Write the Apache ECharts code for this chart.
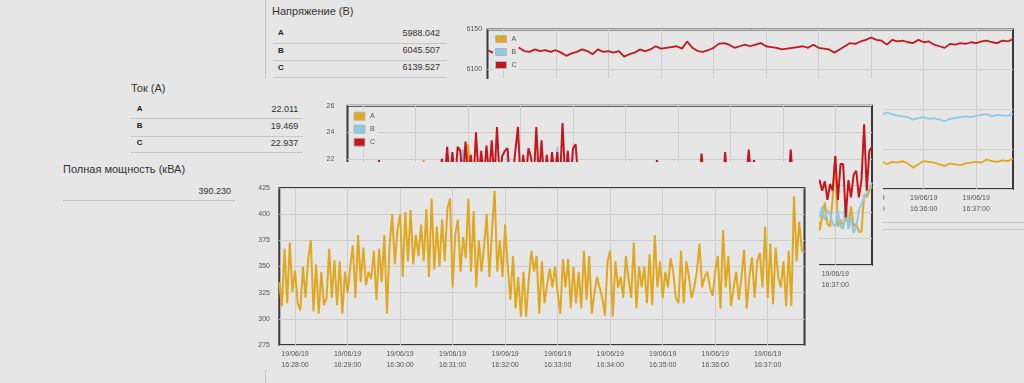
<!DOCTYPE html>
<html><head><meta charset="utf-8">
<script src="https://cdn.jsdelivr.net/npm/echarts/dist/echarts.min.js"></script>
<style>
html,body{margin:0;padding:0;background:#e6e6e6;}
#root{position:relative;width:1024px;height:383px;overflow:hidden;background:#e6e6e6;font-family:'Liberation Sans',Arial,sans-serif;}
.panel{position:absolute;background:#e6e6e6;overflow:hidden;}
.chart{position:absolute;left:0;top:0;}
.t{position:absolute;white-space:nowrap;}
.rule{position:absolute;height:0;border-top:1px solid #c6c6c6;}
.vrule{position:absolute;width:0;border-left:1px solid #c6c6c6;}
</style></head>
<body><div id="root">
<div id="pv" class="panel" style="z-index:1"></div>
<div id="pc" class="panel" style="z-index:2"></div>
<div id="pp" class="panel" style="z-index:3"></div>
</div>
<script>
// ---------- data ----------
const dateLabel = '19/06/19';
const startTime = '16:27:42';
const seriesNames = ['A', 'B', 'C'];

const voltageTitle = 'Напряжение (В)';
const voltageReadings = ['5988.042', '6045.507', '6139.527'];
const currentTitle = 'Ток (А)';
const currentReadings = ['22.011', '19.469', '22.937'];
const powerTitle = 'Полная мощность (кВА)';
const powerReading = '390.230';

const voltageAxis = [5950, 6150, 50];
const currentAxis = [14, 26, 2];
const powerAxis = [275, 425, 25];

// voltage, one value every 6 s
const voltageA = [
5984,5982,5986,5983,5981,5985,5984,5982,5980,5983,
5985,5983,5981,5984,5982,5979,5981,5983,5985,5982,
5980,5984,5982,5983,5981,5983,5978,5980,5982,5984,
5983,5985,5987,5985,5986,5987,5988,5985,5990,5986,
5983,5982,5984,5986,5989,5990,5988,5986,5987,5989,
5987,5988,5990,5987,5986,5985,5984,5985,5986,5987,
5988,5986,5988,5986,5985,5984,5981,5984,5986,5988,
5987,5989,5990,5992,5989,5985,5981,5984,5983,5985,
5982,5977,5981,5985,5984,5983,5981,5979,5982,5981,
5980,5982,5983,5984,5983,5987,5985,5984,5986,5985,
5988];
const voltageB = [
6040,6038,6042,6039,6037,6041,6040,6038,6036,6039,
6041,6039,6037,6040,6038,6035,6037,6039,6041,6038,
6036,6040,6038,6039,6037,6039,6034,6036,6038,6040,
6039,6041,6043,6041,6042,6043,6044,6041,6046,6042,
6039,6038,6040,6042,6045,6046,6044,6042,6043,6045,
6043,6044,6046,6043,6042,6041,6040,6041,6042,6043,
6044,6042,6044,6042,6041,6040,6037,6040,6042,6044,
6043,6045,6046,6047,6045,6043,6046,6044,6042,6041,
6040,6037,6039,6040,6038,6039,6037,6035,6038,6039,
6040,6041,6040,6042,6043,6044,6041,6043,6042,6042,
6044];
const voltageC = [
6124,6121,6125,6123,6126,6124,6127,6123,6122,6125,
6123,6124,6122,6124,6121,6117,6120,6122,6125,6123,
6119,6125,6122,6123,6121,6123,6116,6119,6121,6125,
6123,6125,6129,6126,6127,6128,6129,6126,6135,6127,
6123,6122,6124,6127,6132,6133,6131,6127,6129,6131,
6129,6131,6133,6129,6128,6127,6125,6126,6127,6128,
6129,6127,6131,6127,6126,6125,6121,6125,6129,6133,
6132,6135,6137,6140,6137,6136,6131,6137,6135,6136,
6134,6133,6137,6134,6135,6131,6129,6127,6132,6131,
6133,6132,6134,6133,6135,6136,6134,6133,6136,6135,
6138];

// current, one value every 3 s
const currentA = [
18.2,17.6,18.9,17.9,18.5,17.3,19.1,17.8,18.4,18.0,
18.7,17.5,19.4,17.9,18.6,17.7,19.0,18.1,18.3,17.6,
18.8,18.0,18.5,17.8,19.2,17.4,18.7,18.0,18.4,21.9,
18.6,17.7,19.0,18.2,17.8,18.9,19.6,18.4,20.3,18.5,
20.1,18.7,20.4,19.8,18.9,20.6,23.1,19.9,18.6,21.0,
18.8,20.2,18.5,20.4,18.9,20.7,18.6,21.1,20.0,19.2,
19.8,20.3,18.7,18.9,19.9,18.5,21.2,18.8,19.6,20.1,
19.4,18.6,21.0,18.9,20.2,18.4,19.5,18.8,19.7,18.9,
19.6,18.5,21.3,18.7,19.8,18.4,19.9,20.2,18.6,18.9,
18.1,18.7,17.8,19.0,18.4,17.9,18.6,17.7,19.1,18.3,
18.0,18.8,17.6,18.5,18.9,17.8,18.4,18.1,18.7,17.5,
19.0,17.9,18.6,17.7,18.8,18.2,17.8,18.9,19.8,18.0,
18.5,17.7,19.1,18.0,18.4,17.8,18.8,18.1,18.6,17.9,
18.7,17.6,19.0,18.3,17.9,19.8,18.5,18.0,18.8,17.7,
18.4,18.1,18.9,17.8,19.9,18.3,18.0,18.7,17.6,18.8,
18.2,17.9,18.6,20.1,18.4,19.5,17.8,18.9,18.1,18.5,
17.7,19.0,18.0,18.6,17.8,18.8,18.1,18.5,17.9,20.0,
18.3,17.8,18.7,18.0,18.9,17.6,18.4,18.1,18.8,18.2,
16.6,17.6,18.7,17.1,16.9,19.0,22.2,16.9,17.4,16.9,
17.6,17.1,18.4,16.9,17.1,16.5,16.5,19.3,19.1,19.6,
19.9];
const currentB = [
17.8,17.2,18.4,17.5,18.0,16.9,18.6,17.4,17.9,17.6,
18.2,17.1,18.9,17.5,18.1,17.3,18.5,17.7,17.9,17.2,
18.3,17.6,18.0,17.4,18.7,17.0,18.2,17.6,18.0,17.5,
18.1,17.3,18.5,17.8,17.4,18.4,19.0,17.9,19.8,18.0,
19.5,18.2,19.9,19.3,22.7,20.1,18.8,19.6,18.2,20.5,
18.4,19.8,18.1,19.9,18.5,20.2,18.2,20.6,19.5,18.7,
19.3,22.5,18.3,18.5,19.4,18.1,20.8,18.4,19.1,19.6,
18.9,18.2,20.5,18.5,19.7,18.0,19.0,18.4,19.2,18.5,
22.9,18.1,20.8,18.3,19.3,18.0,19.4,19.7,18.2,18.5,
17.6,18.3,17.4,18.6,17.9,17.5,18.2,17.3,18.7,17.8,
17.6,18.4,17.2,18.0,18.5,17.4,18.0,17.7,18.3,17.1,
18.6,17.5,18.2,17.3,18.4,17.8,17.4,18.5,19.2,17.6,
18.1,17.3,18.7,17.6,18.0,17.4,18.4,17.7,18.2,17.5,
18.3,17.2,18.6,17.9,17.5,19.3,18.1,17.6,18.4,17.3,
18.0,17.7,18.5,17.4,19.4,17.9,17.6,18.3,17.2,18.4,
17.8,17.5,18.2,19.6,18.0,19.0,17.4,18.5,17.7,18.1,
17.3,18.6,17.6,18.2,17.4,18.4,17.7,18.1,17.5,19.5,
17.9,17.4,18.3,17.6,18.5,17.2,18.0,17.7,18.4,17.8,
17.6,18.4,17.4,18.1,17.9,17.1,16.9,18.1,16.9,16.7,
19.0,16.7,17.6,16.4,16.9,18.1,18.6,19.1,19.4,19.9,
20.2];
const currentC = [
20.1,19.4,20.6,19.8,20.3,19.2,20.8,19.6,20.2,19.9,
20.5,19.3,21.9,19.7,20.4,19.5,20.9,19.8,20.1,19.4,
20.6,19.9,20.3,19.6,20.7,19.2,20.5,19.8,20.2,19.7,
20.4,19.5,20.8,20.1,19.6,20.7,22.0,20.3,22.9,20.4,
22.5,20.1,22.9,22.6,20.3,23.3,20.5,22.3,20.2,24.0,
20.6,22.6,20.4,23.0,20.7,23.4,20.4,24.4,20.5,22.2,
22.6,22.8,20.4,20.6,22.6,24.4,20.2,22.3,20.5,22.8,
22.1,20.3,24.4,20.5,23.4,20.1,22.3,20.4,22.5,20.6,
22.5,20.2,24.7,20.4,22.6,20.1,22.8,23.1,20.3,20.7,
19.9,20.5,19.6,20.8,20.2,19.7,20.4,19.5,20.9,20.1,
19.8,20.6,19.4,20.3,20.7,19.6,20.2,19.9,20.5,19.3,
20.8,19.7,20.4,19.5,20.6,20.0,19.6,20.7,21.9,19.8,
20.3,19.5,20.9,19.8,20.2,19.6,20.6,19.9,20.4,19.7,
20.5,19.4,20.8,20.1,19.7,22.4,20.3,19.8,20.6,19.5,
20.2,19.9,20.7,19.6,22.5,20.1,19.8,20.5,19.4,20.6,
20.0,19.7,20.4,22.7,20.2,21.9,19.6,20.7,19.9,20.3,
19.5,20.8,19.8,20.4,19.6,20.6,19.9,20.3,19.7,22.7,
20.1,19.6,20.5,19.8,20.7,19.4,20.2,19.9,20.6,20.0,
20.4,19.6,20.3,18.9,20.1,19.6,22.2,18.9,21.6,21.6,
17.6,20.4,19.1,20.8,21.1,19.1,20.4,24.6,19.6,22.6,
22.9];

// apparent power, one value every 3 s
const powerValues = [
335,312,367,315,373,326,346,315,308,350,
320,357,375,307,352,305,345,313,320,367,
320,356,313,355,305,345,325,349,370,320,
380,335,368,332,345,338,365,318,367,335,
380,305,370,400,352,385,400,340,402,355,
404,352,380,360,390,355,405,340,415,347,
388,350,395,355,405,415,330,380,395,345,
378,358,415,345,403,330,375,345,370,400,
340,385,422,345,375,340,390,350,318,360,
310,340,302,345,302,338,365,345,360,305,
355,315,333,348,330,350,325,305,357,330,
357,310,350,315,345,310,365,318,360,305,
325,340,330,320,303,355,365,302,355,330,
340,320,360,338,320,373,310,350,330,350,
315,362,313,380,330,355,320,345,330,358,
345,320,315,365,315,355,340,320,330,345,
372,330,340,345,330,322,345,360,310,385,
330,360,312,330,345,318,340,366,310,340,
359,320,355,363,330,388,320,372,314,368,
340,330,355,312,365,312,417,355,393,365,
364];

const colorA = '#e0a820', colorB = '#8ecae8', colorC = '#c4171d';

// ---------- helpers ----------
function buildTimes(stepSec, count) {
  const p = startTime.split(':').map(Number);
  const s0 = p[0] * 3600 + p[1] * 60 + p[2];
  const out = [];
  for (let i = 0; i < count; i++) {
    const s = s0 + i * stepSec;
    const h = Math.floor(s / 3600), m = Math.floor((s % 3600) / 60), sec = s % 60;
    out.push([h, m, sec].map(v => String(v).padStart(2, '0')).join(':'));
  }
  return out;
}
const times6 = buildTimes(6, voltageC.length);
const times3 = buildTimes(3, powerValues.length);

const P = {
  pv: {x: 265, y: 0, w: 759, h: 383},
  pc: {x: 120, y: 79, w: 763, h: 221},
  pp: {x: 55, y: 162, w: 764, h: 208}
};
for (const id in P) {
  const e = document.getElementById(id);
  e.style.left = P[id].x + 'px'; e.style.top = P[id].y + 'px';
  e.style.width = P[id].w + 'px'; e.style.height = P[id].h + 'px';
}
function text(pid, str, o) {
  const p = P[pid];
  const d = document.createElement('div');
  d.className = 't'; d.textContent = str;
  const lh = Math.round(o.size + 4);
  d.style.fontSize = o.size + 'px'; d.style.lineHeight = lh + 'px';
  d.style.top = (o.cy - p.y - lh / 2) + 'px';
  d.style.color = o.color || '#333';
  if (o.bold) d.style.fontWeight = 'bold';
  if (o.right !== undefined) {
    d.style.left = (o.right - p.x - 300) + 'px'; d.style.width = '300px'; d.style.textAlign = 'right';
  } else d.style.left = (o.x - p.x) + 'px';
  document.getElementById(pid).appendChild(d);
}
function rule(pid, x1, x2, y) {
  const p = P[pid];
  const d = document.createElement('div'); d.className = 'rule';
  d.style.left = (x1 - p.x) + 'px'; d.style.width = (x2 - x1) + 'px'; d.style.top = Math.round(y - p.y) + 'px';
  document.getElementById(pid).appendChild(d);
}
function vrule(pid, x, y1, y2) {
  const p = P[pid];
  const d = document.createElement('div'); d.className = 'vrule';
  d.style.left = (x - p.x) + 'px'; d.style.top = (y1 - p.y) + 'px'; d.style.height = (y2 - y1) + 'px';
  document.getElementById(pid).appendChild(d);
}
const isMinute = (i, v) => v.slice(-2) === '00';

function lineChart(pid, cfg) {
  const p = P[pid];
  const div = document.createElement('div'); div.className = 'chart';
  div.style.width = p.w + 'px'; div.style.height = p.h + 'px';
  document.getElementById(pid).appendChild(div);
  const ch = echarts.init(div, null, {renderer: 'canvas'});
  const opt = {
    animation: false,
    textStyle: {fontFamily: 'Liberation Sans'},
    grid: {left: cfg.gx - p.x, top: cfg.gy - p.y, width: cfg.gw, height: cfg.gh, show: true,
      borderColor: '#383838', borderWidth: 2, backgroundColor: 'transparent'},
    xAxis: {type: 'category', data: cfg.times, boundaryGap: false,
      axisLine: {show: false}, axisTick: {show: false},
      axisLabel: {interval: isMinute, formatter: v => dateLabel + '\n' + v, fontSize: 7, lineHeight: 10.5,
        color: '#555', margin: 4},
      splitLine: {show: true, interval: isMinute, lineStyle: {color: '#cdcdcd', width: 1}}},
    yAxis: {type: 'value', min: cfg.axis[0], max: cfg.axis[1], interval: cfg.axis[2],
      axisLine: {show: false}, axisTick: {show: false},
      axisLabel: {fontSize: 7, color: '#555', align: 'left', margin: 21, formatter: v => String(v)},
      splitLine: {lineStyle: {color: '#cdcdcd', width: 1}}},
    series: cfg.series.map(s => ({type: 'line', name: s.name, data: s.data, showSymbol: false, symbol: 'none',
      lineStyle: {width: cfg.lw, color: s.color}, itemStyle: {color: s.color}, emphasis: {disabled: true}}))
  };
  if (cfg.legend) {
    opt.legend = {orient: 'vertical', left: cfg.legend.x - p.x, top: cfg.legend.y - p.y, icon: 'rect',
      itemWidth: 11, itemHeight: cfg.legend.ih, itemGap: cfg.legend.gap, padding: 2,
      backgroundColor: '#e6e6e6', textStyle: {fontSize: 7, color: '#555'},
      itemStyle: {borderColor: '#b4b4b4', borderWidth: 1}, data: seriesNames};
  }
  ch.setOption(opt);
}

// ---------- voltage panel ----------
vrule('pv', 265, 0, 383);
text('pv', voltageTitle, {x: 272, cy: 11.7, size: 11});
[33.3, 50.7, 67.7].forEach((cy, i) => {
  text('pv', seriesNames[i], {x: 278, cy, size: 8, bold: true, color: '#222'});
  text('pv', voltageReadings[i], {right: 440, cy, size: 9, color: '#333'});
});
[42.5, 59.7, 77].forEach(y => rule('pv', 273, 447, y));
rule('pv', 480, 1024, 222);
rule('pv', 480, 1024, 229);
lineChart('pv', {gx: 487.5, gy: 29.5, gw: 525.5, gh: 159.5, times: times6, axis: voltageAxis, lw: 1.8,
  legend: {x: 493, y: 33, ih: 7, gap: 5},
  series: [{name: 'A', data: voltageA, color: colorA}, {name: 'B', data: voltageB, color: colorB},
           {name: 'C', data: voltageC, color: colorC}]});

// ---------- current panel ----------
text('pc', currentTitle, {x: 131, cy: 88.3, size: 11});
[109, 126.3, 143.3].forEach((cy, i) => {
  text('pc', seriesNames[i], {x: 136.7, cy, size: 8, bold: true, color: '#222'});
  text('pc', currentReadings[i], {right: 298.3, cy, size: 9, color: '#333'});
});
[118.3, 135.7, 152.3].forEach(y => rule('pc', 131, 303, y));
lineChart('pc', {gx: 347.5, gy: 105.7, gw: 524.5, gh: 159.3, times: times3, axis: currentAxis, lw: 2,
  legend: {x: 351.5, y: 109.7, ih: 8, gap: 4},
  series: [{name: 'A', data: currentA, color: colorA}, {name: 'B', data: currentB, color: colorB},
           {name: 'C', data: currentC, color: colorC}]});

// ---------- power panel ----------
text('pp', powerTitle, {x: 63, cy: 169, size: 11});
text('pp', powerReading, {right: 231, cy: 191, size: 9, color: '#333'});
rule('pp', 63, 235, 200);
lineChart('pp', {gx: 279.3, gy: 188, gw: 525.2, gh: 159.3, times: times3, axis: powerAxis, lw: 2,
  series: [{name: 'A', data: powerValues, color: colorA}]});
</script></body></html>
